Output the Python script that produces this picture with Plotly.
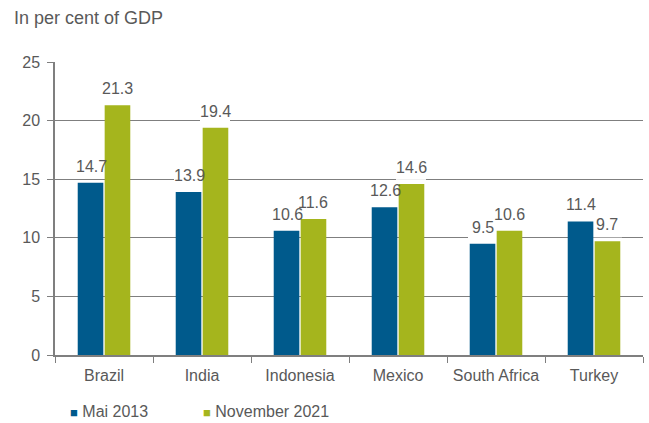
import plotly.graph_objects as go

categories = ["Brazil", "India", "Indonesia", "Mexico", "South Africa", "Turkey"]
mai_2013 = [14.7, 13.9, 10.6, 12.6, 9.5, 11.4]
nov_2021 = [21.3, 19.4, 11.6, 14.6, 10.6, 9.7]
series_names = ["Mai 2013", "November 2021"]
y_ticks = [0, 5, 10, 15, 20, 25]

blue = "#005A8C"
green = "#A5B51D"
grey_text = "#595959"
axis_col = "#7F7F7F"
font = "Liberation Sans, Arial, sans-serif"
fs = 16

fig = go.Figure()
fig.add_trace(go.Bar(x=categories, y=mai_2013, name=series_names[0], showlegend=False,
                     marker=dict(color=blue, line=dict(width=0))))
fig.add_trace(go.Bar(x=categories, y=nov_2021, name=series_names[1], showlegend=False,
                     marker=dict(color=green, line=dict(width=0))))

# plot area: 588 px wide, 293 px high
W, H = 588, 293
px_per_unit = H / 25
annotations = []
shapes = []
for i, (cat, a, b) in enumerate(zip(categories, mai_2013, nov_2021)):
    for val, shift in ((a, -13), (b, 13)):
        annotations.append(dict(x=cat, y=val, xref="x", yref="y", text=f"{val:.1f}",
                                showarrow=False, xshift=shift, yanchor="bottom", yshift=6,
                                font=dict(family=font, size=fs, color=grey_text)))
        # white backing behind the label, between gridlines and bars
        cx = i + shift / 98
        shapes.append(dict(type="rect", xref="x", yref="y", layer="between",
                           x0=cx - 15 / 98, x1=cx + 15 / 98,
                           y0=val + 4 / px_per_unit, y1=val + 24 / px_per_unit,
                           fillcolor="white", line=dict(width=0)))
annotations.append(dict(xref="paper", yref="paper", x=-43/W, y=1 + (62-18)/H,
                        text="In per cent of GDP", showarrow=False,
                        xanchor="left", yanchor="middle",
                        font=dict(family=font, size=18, color=grey_text)))
# legend (manual, as in the original: small square + label)
for name, col, px in ((series_names[0], blue, 68), (series_names[1], green, 201)):
    annotations.append(dict(xref="paper", yref="paper", x=(px-55)/W, y=(355-411)/H,
                            text=f"<span style='color:{col};font-size:13px'>■</span> {name}",
                            showarrow=False, xanchor="left", yanchor="middle",
                            font=dict(family=font, size=fs, color=grey_text)))

fig.update_layout(
    width=649, height=423,
    margin=dict(l=55, r=6, t=62, b=68, autoexpand=False),
    paper_bgcolor="white", plot_bgcolor="white",
    barmode="group", bargap=0.45, bargroupgap=0.05,
    font=dict(family=font, size=fs, color=grey_text),
    showlegend=False,
    annotations=annotations,
    shapes=shapes,
    xaxis=dict(showline=True, linecolor=axis_col, linewidth=1.5, tickangle=0, automargin=False,
               ticks="outside", tickson="boundaries", ticklen=6, tickcolor=axis_col,
               ticklabelstandoff=5, range=[-0.5, 5.5],
               tickfont=dict(family=font, size=fs, color=grey_text), showgrid=False),
    yaxis=dict(range=[0, 25], tickvals=y_ticks, showline=True, linecolor=axis_col, linewidth=1.5,
               automargin=False,
               ticks="outside", ticklen=6, tickcolor=axis_col, ticklabelstandoff=4,
               showgrid=True, gridcolor=axis_col, gridwidth=1.2, zeroline=False,
               tickfont=dict(family=font, size=fs, color=grey_text)),
)

fig.write_html("out.html")
